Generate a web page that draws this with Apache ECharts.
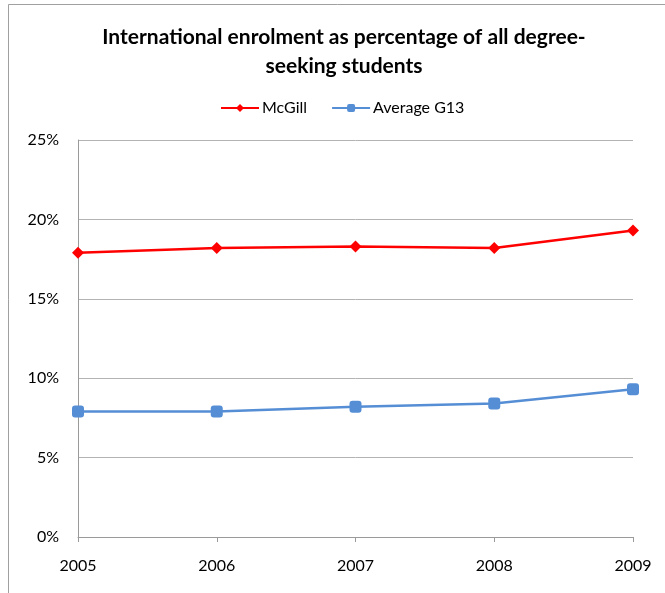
<!DOCTYPE html>
<html>
<head>
<meta charset="utf-8">
<script src="https://cdn.jsdelivr.net/npm/echarts@6/dist/echarts.min.js"></script>
<style>
  html, body { margin: 0; padding: 0; background: #fff; }
  #chart { width: 665px; height: 593px; }
</style>
</head>
<body>
<div id="chart"></div>
<script>
var years = ['2005', '2006', '2007', '2008', '2009'];
var mcgill = [17.9, 18.2, 18.3, 18.2, 19.3];
var averageG13 = [7.9, 7.9, 8.2, 8.4, 9.3];

var chartDom = document.getElementById('chart');
var myChart = echarts.init(chartDom);

var fontName = 'Lato';

var option = {
    backgroundColor: '#fff',
    animation: false,
    graphic: [{
        type: 'rect',
        shape: { x: 8.5, y: 4.5, width: 700, height: 650 },
        style: { fill: 'none', stroke: '#a0a0a0', lineWidth: 1 },
        silent: true
    }],
    title: {
        text: 'International enrolment as percentage of all degree-\nseeking students',
        left: 339,
        top: 18,
        textAlign: 'center',
        textStyle: {
            fontFamily: fontName,
            fontSize: 21,
            fontWeight: 'bold',
            color: '#000',
            lineHeight: 29
        }
    },
    legend: {
        left: 215,
        top: 95,
        itemWidth: 38,
        itemHeight: 10,
        itemGap: 24,
        textStyle: { fontFamily: fontName, fontSize: 16, color: '#000', padding: [0, 0, 0, -2] },
        data: ['McGill', 'Average G13']
    },
    grid: {
        left: 78,
        right: 32,
        top: 140,
        bottom: 56,
        containLabel: false
    },
    xAxis: {
        type: 'category',
        data: years,
        boundaryGap: false,
        axisLine: { lineStyle: { color: '#9a9a9a', width: 1 } },
        axisTick: { show: true, length: 5, lineStyle: { color: '#9a9a9a' } },
        axisLabel: { fontFamily: fontName, fontSize: 16, color: '#000', margin: 21 },
        splitLine: { show: false }
    },
    yAxis: {
        type: 'value',
        min: 0,
        max: 25,
        interval: 5,
        axisLine: { show: true, lineStyle: { color: '#9a9a9a', width: 1 } },
        axisTick: { show: false },
        axisLabel: {
            fontFamily: fontName,
            fontSize: 16,
            color: '#000',
            margin: 19,
            formatter: '{value}%'
        },
        splitLine: { lineStyle: { color: '#b3b3b3', width: 1 } }
    },
    series: [{
        name: 'McGill',
        type: 'line',
        data: mcgill,
        symbol: 'diamond',
        symbolSize: 12,
        lineStyle: { color: '#ff0000', width: 2.5 },
        itemStyle: { color: '#ff0000' }
    }, {
        name: 'Average G13',
        type: 'line',
        data: averageG13,
        symbol: 'roundRect',
        symbolSize: 12,
        lineStyle: { color: '#558ed5', width: 2.5 },
        itemStyle: { color: '#558ed5' }
    }]
};

option && myChart.setOption(option);
</script>
</body>
</html>
